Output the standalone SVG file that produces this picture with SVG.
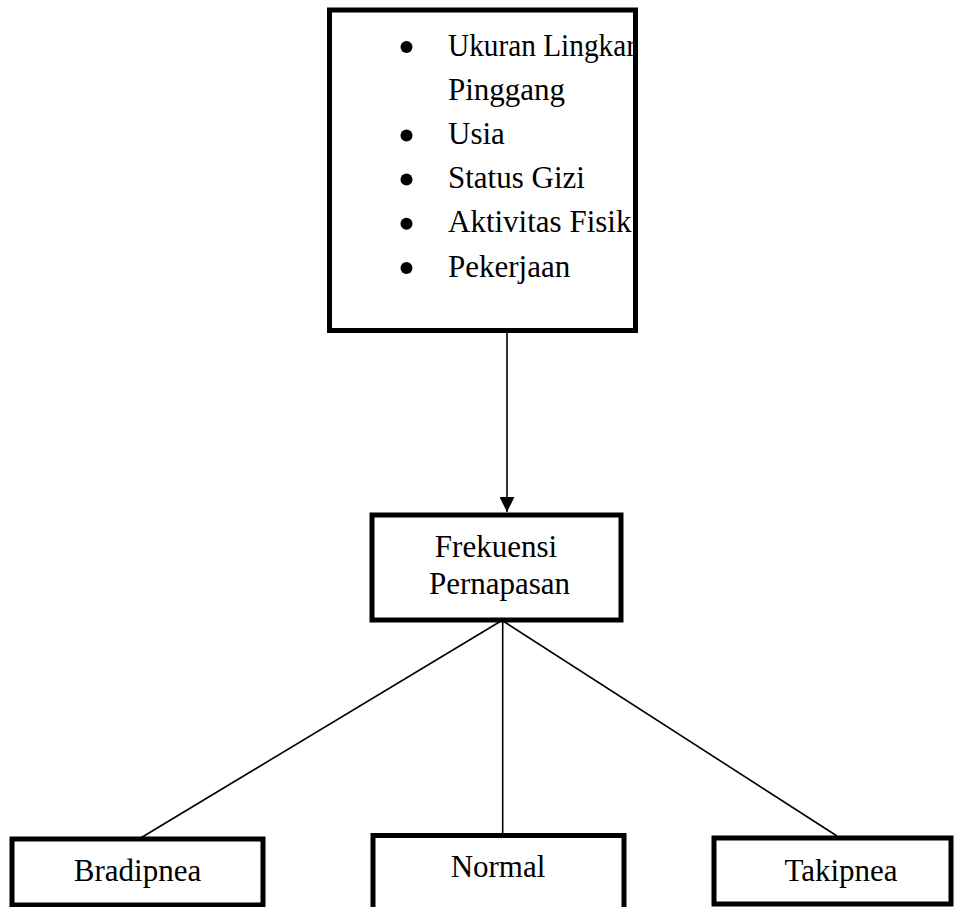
<svg xmlns="http://www.w3.org/2000/svg" width="955" height="907" viewBox="0 0 955 907">
<defs>
<style>
.box{fill:#fff;stroke:#000;stroke-width:5}
.t{font-family:"Liberation Serif","Times New Roman",serif;font-size:31px;fill:#000}
.c{text-anchor:middle}
.ln{stroke:#000;stroke-width:1.6;fill:none}
</style>
<marker id="arr" markerWidth="16" markerHeight="15" refX="15" refY="7.5" orient="auto" markerUnits="userSpaceOnUse">
<path d="M0,0 L15,7.5 L0,15 Z" fill="#000"/>
</marker>
</defs>
<g id="connectors">
<line class="ln" x1="507" y1="333" x2="507" y2="512" stroke-width="2" marker-end="url(#arr)"/>
<line class="ln" x1="501" y1="621" x2="129" y2="845"/>
<line class="ln" x1="502.7" y1="621" x2="502.7" y2="834"/>
<line class="ln" x1="503" y1="621" x2="837" y2="836"/>
</g>
<g id="factors">
<rect class="box" x="329.5" y="10" width="306" height="320.5"/>
<circle cx="406.5" cy="47" r="6"/>
<circle cx="406.5" cy="135.4" r="6"/>
<circle cx="406.5" cy="179.6" r="6"/>
<circle cx="406.5" cy="223.8" r="6"/>
<circle cx="406.5" cy="268" r="6"/>
<text class="t" x="448" y="55.5" textLength="188" lengthAdjust="spacingAndGlyphs">Ukuran Lingkar</text>
<text class="t" x="448" y="99.7">Pinggang</text>
<text class="t" x="448" y="143.9">Usia</text>
<text class="t" x="448" y="188.1">Status Gizi</text>
<text class="t" x="448" y="232.3">Aktivitas Fisik</text>
<text class="t" x="448" y="276.5">Pekerjaan</text>
</g>
<g id="frekuensi">
<rect class="box" x="372" y="515" width="249" height="105"/>
<text class="t c" x="496" y="557">Frekuensi</text>
<text class="t c" x="499.5" y="594">Pernapasan</text>
</g>
<g id="bradipnea">
<rect class="box" x="12" y="839" width="251" height="66"/>
<text class="t c" x="137.5" y="881">Bradipnea</text>
</g>
<g id="normal">
<rect class="box" x="373" y="835.5" width="251" height="80"/>
<text class="t c" x="498" y="877">Normal</text>
</g>
<g id="takipnea">
<rect class="box" x="714" y="838" width="237" height="66"/>
<text class="t c" x="841" y="881">Takipnea</text>
</g>
</svg>
